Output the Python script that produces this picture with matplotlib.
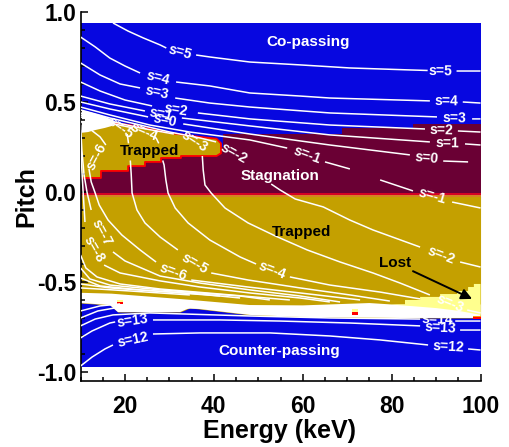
import numpy as np
import matplotlib
matplotlib.use("Agg")
import matplotlib.pyplot as plt
from matplotlib.patches import Polygon, Rectangle
from matplotlib.ticker import MultipleLocator, FixedLocator

nan = np.nan
plt.rcParams['font.family'] = ['Liberation Sans', 'DejaVu Sans']
plt.rcParams['font.weight'] = 'bold'

# ---------------- ticks ----------------
x_ticks = [20, 40, 60, 80, 100]
x_tick_labels = ["20", "40", "60", "80", "100"]
y_ticks = [-1.0, -0.5, 0.0, 0.5, 1.0]
y_tick_labels = ["-1.0", "-0.5", "0.0", "0.5", "1.0"]

# ---------------- data domain ----------------
energy_range = [10, 100]
pitch_range = [-0.97, 0.94]

# ---------------- region boundaries (Energy keV, pitch) ----------------
stag_E = [10, 100, 100, 84.8, 84.8, 68.8, 68.8, 42.0, 42.0, 10]
stag_p = [-0.006, -0.006, 0.378, 0.378, 0.356, 0.356, 0.322, 0.322, 0.25, 0.25]

trap_up_E = [10, 15.5, 21.1, 30.1, 36.9, 40.6, 41.6, 41.6, 40.6, 32.6, 32.6, 28.1, 28.1,
             24.5, 24.5, 20.7, 20.7, 14.6, 14.6, 10]
trap_up_p = [0.39, 0.389, 0.372, 0.328, 0.306, 0.296, 0.27, 0.215, 0.2, 0.2, 0.189, 0.189,
             0.167, 0.167, 0.144, 0.144, 0.117, 0.117, 0.078, 0.078]

trap_low_top = -0.025

wb_up_E = [10, 17, 30, 35, 48, 60, 75, 80, 100]
wb_up_p = [-0.56, -0.565, -0.59, -0.6, -0.628, -0.63, -0.617, -0.625, -0.625]
wb_low_E = [10, 16.6, 18.4, 32.4, 34.6, 48.1, 59.4, 81.9, 100]
wb_low_p = [-0.617, -0.628, -0.667, -0.667, -0.644, -0.683, -0.694, -0.7, -0.7]

lost_E = [79.6, 83.0, 83.0, 86.4, 86.4, 90.9, 90.9, 94.7, 94.7, 97.2, 97.2, 98.5, 98.5,
          100, 100, 95, 90, 85]
lost_p = [-0.625, -0.625, -0.6, -0.6, -0.583, -0.583, -0.567, -0.567, -0.55, -0.55, -0.528,
          -0.528, -0.511, -0.511, -0.683, -0.66, -0.645, -0.635]

crowd_E = [10, 12.1, 14.4, 16.2, 17.8, 17.1, 15.5, 13.3, 11.7, 10]
crowd_p = [0.456, 0.444, 0.428, 0.411, 0.394, 0.367, 0.356, 0.344, 0.333, 0.328]

# small isolated cells: E_left, E_right, p_bottom, p_top, colour key
speck_E0 = [98.3, 98.3, 71.1, 71.1, 18.2, 18.2]
speck_E1 = [100, 100, 72.4, 72.4, 19.6, 19.6]
speck_p0 = [-0.706, -0.695, -0.667, -0.683, -0.61, -0.622]
speck_p1 = [-0.695, -0.689, -0.65, -0.667, -0.6, -0.61]
speck_c = ["red", "orange", "yellow", "red", "yellow", "red"]

# ---------------- contour lines (NaN = gap for label) ----------------
s5_E = [17.3, 20.7, 24.1, 27.9, 29.3, nan, 36.0, 39.1, 48.1, 59.4, 70.6, 84.1, 88.1, nan, 94.6, 100]
s5_p = [0.939, 0.894, 0.856, 0.817, 0.8, nan, 0.761, 0.75, 0.722, 0.706, 0.689, 0.678, 0.675, nan, 0.672, 0.672]

s4_E = [10, 13.3, 16.6, 20.0, 23.4, nan, 31.5, 39.1, 48.1, 59.4, 66.1, 88.6, nan, 96.0, 100]
s4_p = [0.861, 0.806, 0.744, 0.7, 0.661, nan, 0.611, 0.589, 0.55, 0.533, 0.522, 0.506, nan, 0.5, 0.494]

s3_E = [10, 14.4, 18.9, 23.4, nan, 31.3, 39.1, 48.1, 66.1, 90.2, nan, 98.1, 100]
s3_p = [0.717, 0.65, 0.6, 0.578, nan, 0.522, 0.494, 0.472, 0.439, 0.417, nan, 0.406, 0.406]

s2_E = [10, 14.4, 20.0, 26.1, nan, 36.4, 48.1, 66.1, 87.5, nan, 94.9, 100]
s2_p = [0.611, 0.561, 0.511, 0.478, nan, 0.439, 0.406, 0.372, 0.35, nan, 0.339, 0.333]

s1_E = [10, 16.6, 24.5, nan, 32.8, 48.1, 66.1, 88.6, nan, 96.5, 100]
s1_p = [0.533, 0.489, 0.45, nan, 0.411, 0.367, 0.317, 0.278, nan, 0.267, 0.261]

s0_E = [10, 16.6, 25.2, nan, 33.1, 48.1, 66.1, 84.1, nan, 91.6, 97.2]
s0_p = [0.5, 0.461, 0.417, nan, 0.378, 0.322, 0.261, 0.206, nan, 0.172, 0.167]

sm1_E = [10, 16.6, 25.6, 34.6, 41.4, 48.1, 56.5, nan, 65.0, 70.6, nan, 77.4, 84.8, nan, 93.6, 100]
sm1_p = [0.472, 0.428, 0.372, 0.333, 0.311, 0.289, 0.244, nan, 0.167, 0.128, nan, 0.067, 0.006, nan, -0.056, -0.089]

sm2_E = [10, 16.6, 23.4, 30.1, 36.9, 40.5, nan, 48.6, nan, 52.9, 54.9, 58.3, 64.6, 70.6, 75.8, 86.4, nan, 95.4, 100]
sm2_p = [0.456, 0.411, 0.372, 0.333, 0.3, 0.278, nan, 0.167, nan, 0.044, 0.011, -0.039, -0.083, -0.156, -0.211, -0.306, nan, -0.389, -0.417]

sm3_E = [10, 16.6, 23.4, 31.0, nan, 37.4, 37.6, 38.0, 39.4, 42.5, 47.7, 53.8, 61.0, 68.4, 75.8, 81.9, 88.6, nan, 97.0, 100]
sm3_p = [0.439, 0.394, 0.356, 0.322, nan, 0.2, 0.122, 0.039, -0.006, -0.089, -0.172, -0.244, -0.322, -0.389, -0.45, -0.506, -0.572, nan, -0.656, -0.672]

sm4_E = [10, 16.6, 21.8, nan, 27.0, 27.6, nan, 28.5, 28.8, 29.2, 29.7, 31.3, 34.2, 39.1, 45.9, 49.5, nan, 57.1, 66.1, 77.4, 86.4]
sm4_p = [0.428, 0.383, 0.356, nan, 0.3, 0.27, nan, 0.175, 0.15, 0.067, -0.006, -0.089, -0.172, -0.267, -0.361, -0.4, nan, -0.472, -0.517, -0.556, -0.594]

sm5_E = [10, 14.4, 16.6, nan, 20.5, 20.8, nan, 21.2, 21.4, 21.6, 22.7, 24.5, 27.9, 31.9, nan, 39.4, 47.7, 59.4, 70.6, 79.6]
sm5_p = [0.417, 0.394, 0.378, nan, 0.322, 0.27, nan, 0.175, 0.1, -0.006, -0.1, -0.172, -0.25, -0.322, nan, -0.45, -0.489, -0.533, -0.572, -0.606]

sm6_E = [10, 12.1, 14.4, 15.7, nan, 11.9, 12.4, 13.3, 14.2, 16.2, 19.3, 23.4, 27.0, nan, 34.9, 47.7, 59.4, 72.9]
sm6_p = [0.394, 0.35, 0.306, 0.261, nan, 0.128, 0.056, -0.006, -0.072, -0.156, -0.239, -0.322, -0.389, nan, -0.489, -0.528, -0.561, -0.6]

sm7_E = [10, 10.3, 10.8, 11.5, 12.4, nan, 17.3, 20.0, 27.9, 36.9, 48.1, 59.4, 68.4]
sm7_p = [0.372, 0.233, 0.094, -0.006, -0.1, nan, -0.333, -0.383, -0.467, -0.506, -0.544, -0.578, -0.611]

sm8_E = [10, 10.3, 10.6, 11.0, nan, 15.3, 18.9, 27.9, 36.9, 48.1, 59.4, 66.1]
sm8_p = [0.344, 0.122, -0.006, -0.167, nan, -0.406, -0.45, -0.494, -0.528, -0.561, -0.589, -0.611]

sm9_E = [10, 11.2, 13.7, 18.9, 27.9, 41.4, 57.1]
sm9_p = [-0.35, -0.422, -0.472, -0.511, -0.539, -0.567, -0.6]
sm10_E = [10, 12.1, 16.6, 27.9, 45.9, 52.6]
sm10_p = [-0.422, -0.483, -0.517, -0.544, -0.578, -0.6]
sm11_E = [10, 14.4, 23.4, 36.9, 45.9]
sm11_p = [-0.478, -0.522, -0.544, -0.567, -0.589]
sm12_E = [10, 16.6, 30.1, 41.4]
sm12_p = [-0.511, -0.533, -0.556, -0.578]
sm13_E = [10, 21.1, 34.6]
sm13_p = [-0.533, -0.55, -0.572]

s12_E = [10, 12.6, 15.5, 17.3, nan, 26.3, 36.9, 52.6, 66.1, 77.4, 88.2, nan, 97.2, 100]
s12_p = [-0.967, -0.917, -0.872, -0.85, nan, -0.789, -0.783, -0.783, -0.8, -0.822, -0.85, nan, -0.872, -0.878]

s13_E = [10, 12.6, 16.6, 17.8, nan, 26.3, 41.4, 54.9, 70.6, 86.4, nan, 95.4, 100]
s13_p = [-0.811, -0.772, -0.728, -0.722, nan, -0.711, -0.711, -0.717, -0.728, -0.744, nan, -0.767, -0.767]

s14_E = [10, 13.3, 17.3, 25.6, 48.1, 66.1, 86.4, nan, 94.3, 100]
s14_p = [-0.744, -0.706, -0.683, -0.672, -0.689, -0.7, -0.706, nan, -0.717, -0.717]
s15_E = [10, 13.9, 17.8, 36.9]
s15_p = [-0.7, -0.661, -0.644, -0.644]
s16_E = [10, 14.4, 18.9]
s16_p = [-0.661, -0.633, -0.622]

contours = [(s5_E, s5_p), (s4_E, s4_p), (s3_E, s3_p), (s2_E, s2_p), (s1_E, s1_p), (s0_E, s0_p),
            (sm1_E, sm1_p), (sm2_E, sm2_p), (sm3_E, sm3_p), (sm4_E, sm4_p), (sm5_E, sm5_p),
            (sm6_E, sm6_p), (sm7_E, sm7_p), (sm8_E, sm8_p), (sm9_E, sm9_p), (sm10_E, sm10_p),
            (sm11_E, sm11_p), (sm12_E, sm12_p), (sm13_E, sm13_p),
            (s12_E, s12_p), (s13_E, s13_p), (s14_E, s14_p), (s15_E, s15_p), (s16_E, s16_p)]

# contour labels: text, E, pitch, angle
contour_labels = [
    ("s=5", 32.4, 0.778, -15), ("s=5", 91.1, 0.672, -1),
    ("s=4", 27.4, 0.633, -14), ("s=4", 92.4, 0.503, -1),
    ("s=3", 27.3, 0.55, -12), ("s=3", 94.2, 0.411, -1),
    ("s=2", 31.5, 0.458, -9), ("s=2", 91.2, 0.344, -1),
    ("s=1", 28.0, 0.432, -11), ("s=1", 92.5, 0.272, -1),
    ("s=0", 28.9, 0.398, -11), ("s=0", 88.0, 0.19, -5),
    ("s=-1", 61.0, 0.205, -20), ("s=-1", 89.2, -0.022, -16),
    ("s=-2", 44.5, 0.215, -29), ("s=-2", 91.1, -0.35, -21),
    ("s=-3", 35.6, 0.28, -33), ("s=-3", 93.1, -0.622, -22),
    ("s=-4", 24.4, 0.335, -23), ("s=-4", 53.1, -0.433, -21),
    ("s=-5", 18.9, 0.355, -35), ("s=-5", 35.8, -0.4, -30),
    ("s=-6", 13.7, 0.194, 62), ("s=-6", 30.8, -0.444, -20),
    ("s=-7", 14.8, -0.228, -62), ("s=-8", 13.0, -0.317, -60),
    ("s=12", 21.8, -0.819, 12), ("s=12", 92.7, -0.861, -3),
    ("s=13", 21.8, -0.716, 8), ("s=13", 90.9, -0.756, -3),
    ("s=14", 90.2, -0.711, -2),
]

region_labels = [
    ("Co-passing", 61.1, 0.833, "white"),
    ("Trapped", 25.6, 0.228, "black"),
    ("Stagnation", 54.9, 0.089, "white"),
    ("Trapped", 59.8, -0.222, "black"),
    ("Lost", 80.8, -0.397, "black"),
    ("Counter-passing", 54.7, -0.883, "white"),
]
arrow_from = (84.8, -0.44)
arrow_to = (98.1, -0.594)

# ---------------- colours ----------------
COL = {"blue": "#0707e0", "maroon": "#6a0034", "gold": "#c4a000", "yellow": "#ffff8e",
       "red": "#ff0000", "orange": "#ff9a00", "white": "#ffffff"}

fig = plt.figure(figsize=(5.09, 4.47), dpi=100)
ax = fig.add_axes([0.1582, 0.1477, 0.7859, 0.8255])

ax.fill_between(energy_range, pitch_range[0], pitch_range[1], color=COL["blue"], lw=0, zorder=1)
ax.add_patch(Polygon(np.column_stack([stag_E, stag_p]), closed=True, fc=COL["maroon"], ec="none", zorder=1.1))
ax.add_patch(Polygon(np.column_stack([trap_up_E, trap_up_p]), closed=True, fc=COL["gold"], ec="none", zorder=1.2))
ax.plot(trap_up_E[1:], trap_up_p[1:], color=COL["red"], lw=1.3, zorder=1.25)
ax.fill_between(wb_low_E, wb_low_p, trap_low_top, color=COL["gold"], lw=0, zorder=1.2)
ax.add_patch(Polygon(np.column_stack([wb_up_E + wb_low_E[::-1], wb_up_p + wb_low_p[::-1]]),
                     closed=True, fc="white", ec="none", zorder=1.3))
ax.add_patch(Polygon(np.column_stack([lost_E, lost_p]), closed=True, fc=COL["yellow"], ec="none", zorder=1.4))
for e0, e1, p0, p1, c in zip(speck_E0, speck_E1, speck_p0, speck_p1, speck_c):
    ax.add_patch(Rectangle((e0, p0), e1 - e0, p1 - p0, fc=COL[c], ec="none", zorder=1.45))
ax.add_patch(Polygon(np.column_stack([crowd_E, crowd_p]), closed=True, fc="white", ec="none", zorder=1.5))
ax.plot(energy_range, [-0.011, -0.011], color=COL["red"], lw=1.2, zorder=1.6, solid_capstyle="butt")
ax.plot(energy_range, [-0.021, -0.021], color=COL["orange"], lw=1.2, zorder=1.6, solid_capstyle="butt")

for E, p in contours:
    ax.plot(E, p, color="white", lw=1.1, zorder=3, solid_capstyle="butt")

for t, E, p, r in contour_labels:
    ax.text(E, p, t, color="white", fontsize=10, fontweight="bold", rotation=r,
            rotation_mode="anchor", ha="center", va="center", zorder=4)

for t, E, p, c in region_labels:
    ax.text(E, p, t, color=c, fontsize=11, fontweight="bold", ha="center", va="center", zorder=4)

ax.annotate("", xy=arrow_to, xytext=arrow_from,
            arrowprops=dict(arrowstyle="-|>", color="black", lw=1.4, mutation_scale=16,
                            shrinkA=0, shrinkB=0), zorder=5)

ax.set_xlim(10, 100)
ax.set_ylim(-1.05, 1.0)
ax.xaxis.set_major_locator(FixedLocator(x_ticks))
ax.set_xticklabels(x_tick_labels)
ax.yaxis.set_major_locator(FixedLocator(y_ticks))
ax.set_yticklabels(y_tick_labels)
ax.xaxis.set_minor_locator(MultipleLocator(5))
ax.yaxis.set_minor_locator(MultipleLocator(0.1))
ax.tick_params(which="both", direction="in", width=1.1, top=False, right=False, color="black")
ax.tick_params(which="major", length=5)
ax.tick_params(which="minor", length=3)
ax.tick_params(axis="x", which="major", labelsize=16.5, pad=10)
ax.tick_params(axis="y", which="major", labelsize=16.5, pad=3)
for s in ["top", "right"]:
    ax.spines[s].set_visible(False)
for s in ["left", "bottom"]:
    ax.spines[s].set_linewidth(1.2)

ax.set_xlabel("Energy (keV)", fontsize=18, fontweight="bold")
ax.xaxis.set_label_coords(0.4975, -0.103)
ax.set_ylabel("Pitch", fontsize=18, fontweight="bold")
ax.yaxis.set_label_coords(-0.106, 0.5)

fig.savefig("out.png", dpi=100)
